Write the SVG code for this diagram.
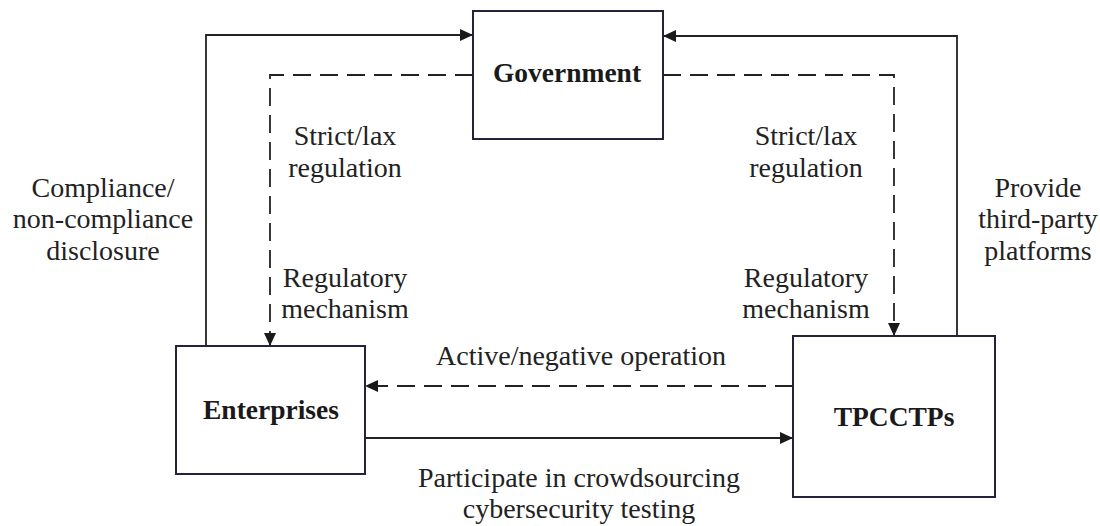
<svg xmlns="http://www.w3.org/2000/svg" width="1100" height="526" viewBox="0 0 1100 526">
<style>
.box{fill:#fff;stroke:#23233f;stroke-width:2}
.lbl{font-family:"Liberation Serif","Times New Roman",serif;font-size:28px;fill:#222;text-anchor:middle}
.ttl{font-family:"Liberation Serif","Times New Roman",serif;font-size:27.5px;font-weight:bold;fill:#1a1a1a;text-anchor:middle}
.ln{fill:none;stroke:#222;stroke-width:1.8}
.dash{stroke-dasharray:18 9}
</style>
<defs>
<marker id="ah" markerUnits="userSpaceOnUse" markerWidth="14" markerHeight="12" viewBox="0 0 14 12" refX="13" refY="6" orient="auto">
<path d="M0,0 L13,6 L0,12 Z" fill="#1a1a1a"/>
</marker>
</defs>
<rect width="1100" height="526" fill="#fff"/>
<g id="connectors">
<path class="ln" d="M206,346 V35 H473" marker-end="url(#ah)"/>
<path class="ln" d="M957,336 V36 H663" marker-end="url(#ah)"/>
<path class="ln dash" d="M473,75 H270 V346" marker-end="url(#ah)"/>
<path class="ln dash" d="M663,75 H894 V336" marker-end="url(#ah)"/>
<path class="ln dash" d="M793,386 H365" marker-end="url(#ah)"/>
<path class="ln" d="M365,438 H793" marker-end="url(#ah)"/>
</g>
<g id="government">
<rect class="box" x="473" y="11" width="190" height="128"/>
<text class="ttl" x="567" y="82">Government</text>
</g>
<g id="enterprises">
<rect class="box" x="176" y="346" width="189" height="128"/>
<text class="ttl" x="271" y="419">Enterprises</text>
</g>
<g id="tpcctps">
<rect class="box" x="793" y="336" width="202" height="161"/>
<text class="ttl" x="894" y="426">TPCCTPs</text>
</g>
<g id="labels">
<text class="lbl" x="103" y="197">Compliance/</text>
<text class="lbl" x="103" y="228">non-compliance</text>
<text class="lbl" x="103" y="260">disclosure</text>
<text class="lbl" x="345" y="145">Strict/lax</text>
<text class="lbl" x="345" y="177">regulation</text>
<text class="lbl" x="345" y="287">Regulatory</text>
<text class="lbl" x="345" y="318">mechanism</text>
<text class="lbl" x="806" y="145">Strict/lax</text>
<text class="lbl" x="806" y="177">regulation</text>
<text class="lbl" x="806" y="287">Regulatory</text>
<text class="lbl" x="806" y="318">mechanism</text>
<text class="lbl" x="1038" y="197">Provide</text>
<text class="lbl" x="1038" y="228">third-party</text>
<text class="lbl" x="1038" y="260">platforms</text>
<text class="lbl" x="581" y="365">Active/negative operation</text>
<text class="lbl" x="579" y="487">Participate in crowdsourcing</text>
<text class="lbl" x="579" y="518">cybersecurity testing</text>
</g>
</svg>
